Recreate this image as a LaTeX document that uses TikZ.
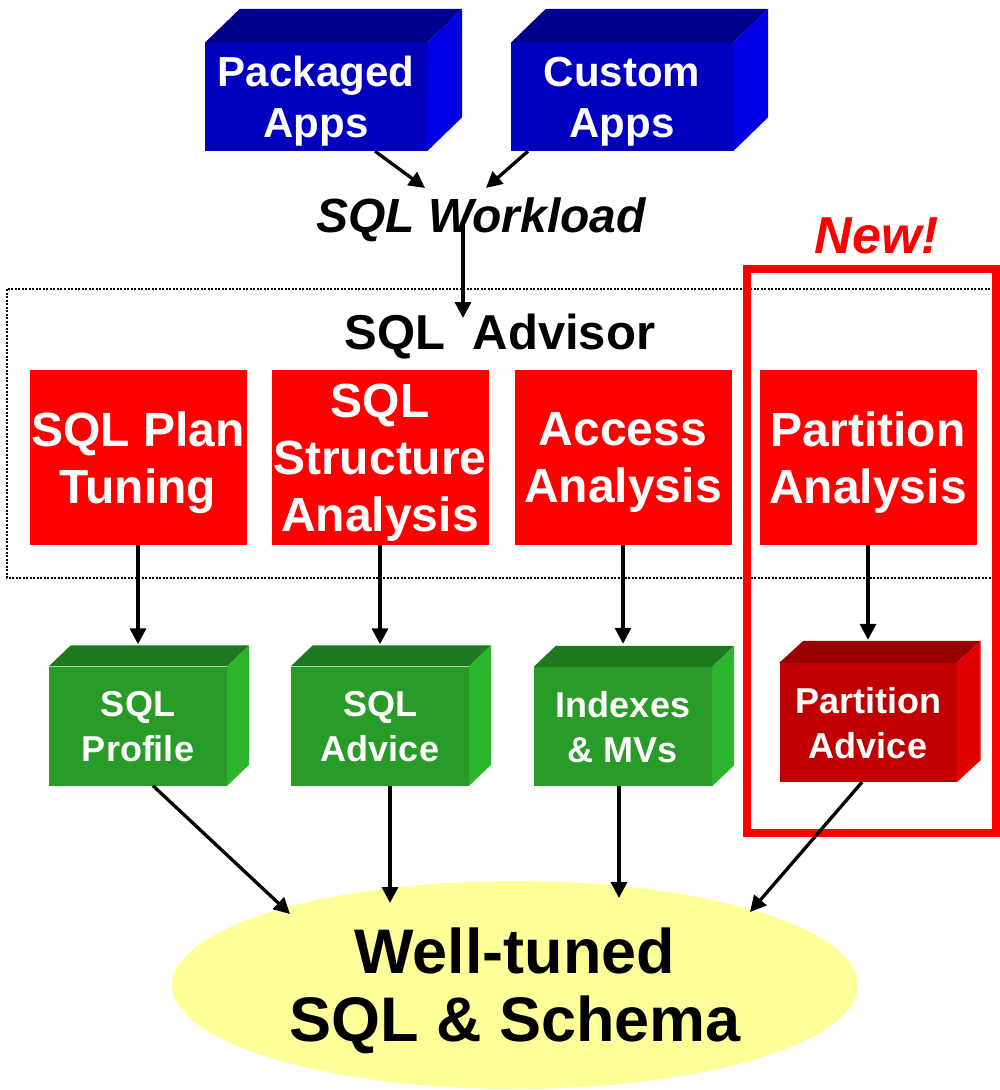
\documentclass[tikz,border=0pt]{standalone}
\usepackage{fontspec}
\setmainfont{Liberation Sans}
\usetikzlibrary{arrows.meta,shapes.geometric}

\definecolor{appfront}{RGB}{0,0,190}
\definecolor{apptop}{RGB}{0,0,140}
\definecolor{appside}{RGB}{0,0,228}
\definecolor{toolred}{RGB}{255,0,0}
\definecolor{outfront}{RGB}{40,155,40}
\definecolor{outtop}{RGB}{30,122,30}
\definecolor{outside}{RGB}{45,180,45}
\definecolor{padvfront}{RGB}{192,0,0}
\definecolor{padvtop}{RGB}{153,0,0}
\definecolor{padvside}{RGB}{224,0,0}
\definecolor{goalfill}{RGB}{255,255,153}

\tikzset{
 face/.style={inner sep=0pt, align=center, text=white, text depth=0pt},
 appbox/.style={face, fill=appfront, minimum width=222, minimum height=108,
   font=\bfseries\fontsize{42}{51}\selectfont},
 toolbox/.style={face, fill=toolred, minimum width=217, minimum height=175,
   font=\bfseries\fontsize{48}{57}\selectfont},
 outbox/.style={face, fill=outfront, minimum width=178, minimum height=119,
   font=\bfseries\fontsize{36}{45}\selectfont},
 padvbox/.style={outbox, fill=padvfront, minimum width=177},
 goal/.style={ellipse, fill=goalfill, inner sep=0pt, align=center, text depth=0pt,
   minimum width=686, minimum height=208, font=\bfseries\fontsize{63}{68}\selectfont},
 wltext/.style={anchor=base, inner sep=0pt, font=\bfseries\itshape\fontsize{48}{57}\selectfont},
 advtext/.style={anchor=base, inner sep=0pt, font=\bfseries\fontsize{49}{57}\selectfont},
 newtext/.style={anchor=base, inner sep=0pt, text=toolred, font=\bfseries\itshape\fontsize{52}{60}\selectfont},
 advfrm/.style={line width=2.5pt, dash pattern=on 2pt off 1.5pt},
 newfrm/.style={draw=toolred, line width=8pt},
 arr/.style={line width=3.3pt, -{Triangle[length=16pt,width=16pt]}}
}

\begin{document}
\begin{tikzpicture}[x=1pt,y=-1pt]
\useasboundingbox (0,0) rectangle (999,1090);

% frames
\draw[advfrm] (7,289) rectangle (997,578);
\draw[newfrm] (747,269) rectangle (996,833);
\node[newtext] (new) at (877,253) {New!};

% applications
\node[appbox] (pk) at (316,97) {Packaged\\Apps};
\node[appbox] (cu) at (622,97) {Custom\\Apps};
\foreach \n in {pk,cu}{
  \fill[apptop] (\n.north west) -- ++(35,-34) -- ([shift={(35,-34)}]\n.north east) -- (\n.north east) -- cycle;
  \fill[appside] (\n.north east) -- ++(35,-34) -- ([shift={(35,-34)}]\n.south east) -- (\n.south east) -- cycle;
}
\node[wltext] (wl) at (481,232) {SQL Workload};

% advisor
\node[advtext] (advlbl) at (500,349) {SQL\ \ Advisor};
\node[toolbox] (plan) at (138,457.5) {SQL Plan\\Tuning};
\node[toolbox] (struct) at (380,457.5) {SQL\\Structure\\Analysis};
\node[toolbox] (access) at (623,457.5) {Access\\Analysis};
\node[toolbox] (part) at (868,457.5) {Partition\\Analysis};

% results
\node[outbox] (prof) at (138,726) {SQL\\Profile};
\node[outbox] (sqladv) at (380,726) {SQL\\Advice};
\node[outbox] (idx) at (623,726.5) {Indexes\\\& MVs};
\node[padvbox] (padv) at (868,722.5) {Partition\\Advice};
\foreach \n in {prof,sqladv,idx}{
  \fill[outtop] (\n.north west) -- ++(22,-21) -- ([shift={(22,-21)}]\n.north east) -- (\n.north east) -- cycle;
  \fill[outside] (\n.north east) -- ++(22,-21) -- ([shift={(22,-21)}]\n.south east) -- (\n.south east) -- cycle;
}
\fill[padvtop] (padv.north west) -- ++(24,-22) -- ([shift={(24,-22)}]padv.north east) -- (padv.north east) -- cycle;
\fill[padvside] (padv.north east) -- ++(24,-22) -- ([shift={(24,-22)}]padv.south east) -- (padv.south east) -- cycle;

\node[goal] (well) at (515,985) {Well-tuned\\SQL \& Schema};

% arrow ends
\coordinate (wlin1) at (425,188);
\coordinate (wlin2) at (486,188);
\coordinate (wlout) at (463,223);
\coordinate (advin) at (463,318);
\coordinate (wellin1) at (290,914);
\coordinate (wellin2) at (390,903);
\coordinate (wellin3) at (619,898);
\coordinate (wellin4) at (750,912);

% arrows
\draw[arr] ([xshift=59]pk.south) -- (wlin1);
\draw[arr] ([xshift=-94]cu.south) -- (wlin2);
\draw[arr] (wlout) -- (advin);
\draw[arr] (plan.south) -- ([yshift=22]prof.north);
\draw[arr] (struct.south) -- ([yshift=22]sqladv.north);
\draw[arr] (access.south) -- ([yshift=23]idx.north);
\draw[arr] (part.south) -- ([yshift=23]padv.north);
\draw[arr] ([xshift=15]prof.south) -- (wellin1);
\draw[arr] ([xshift=10]sqladv.south) -- (wellin2);
\draw[arr] ([xshift=-4]idx.south) -- (wellin3);
\draw[arr] ([xshift=-6]padv.south) -- (wellin4);
\end{tikzpicture}
\end{document}
